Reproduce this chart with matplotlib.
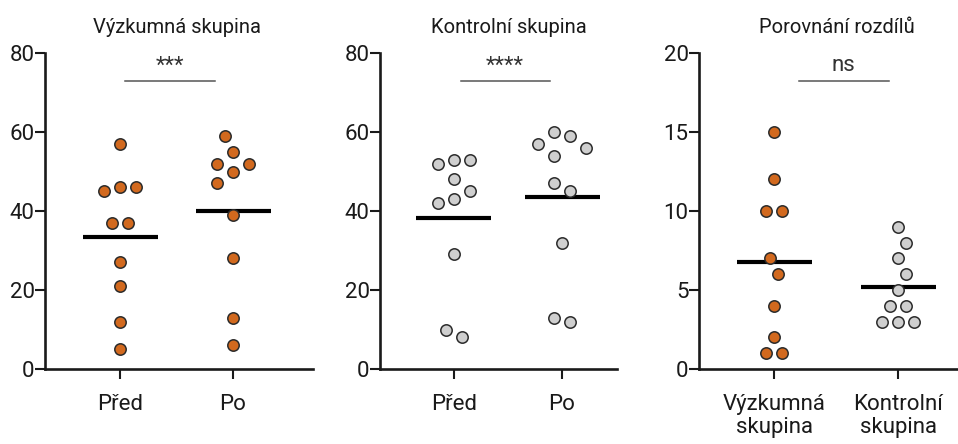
import numpy as np
import matplotlib
matplotlib.use("Agg")
import matplotlib.pyplot as plt

# ---------------- data ----------------
titles = ["Výzkumná skupina", "Kontrolní skupina", "Porovnání rozdílů"]

cats_1 = ["Před", "Po"]
vyzk_pred = [57, 46, 45, 46, 37, 37, 27, 21, 12, 5]
vyzk_po = [59, 55, 52, 52, 50, 47, 39, 28, 13, 6]

cats_2 = ["Před", "Po"]
kontr_pred = [53, 52, 53, 48, 45, 42, 43, 29, 8, 10]
kontr_po = [59, 60, 56, 57, 54, 47, 45, 32, 12, 13]

cats_3 = ["Výzkumná\nskupina", "Kontrolní\nskupina"]
rozdil_vyzk = [15, 12, 10, 10, 7, 6, 4, 2, 1, 1]
rozdil_kontr = [9, 8, 7, 6, 5, 4, 4, 3, 3, 3]

sig_labels = ["***", "****", "ns"]
yticks_12 = [0, 20, 40, 60, 80]
yticks_3 = [0, 5, 10, 15, 20]

# ---------------- style ----------------
ORANGE = "#D2691E"
GRAY = "#CFCFCF"
EDGE = "#2b2b2b"
plt.rcParams["font.family"] = ["Roboto", "DejaVu Sans"]

W, H = 958, 444
fig = plt.figure(figsize=(W / 100, H / 100), dpi=100)

ax_top, ax_bot = 53, 369
panels = [
    dict(left=45, right=313, xlim=(-0.664, 1.708), ylim=(0, 80), yticks=yticks_12,
         cats=cats_1, series=[vyzk_pred, vyzk_po], colors=[ORANGE, ORANGE],
         sig=(0.044, 0.84, 73, 0.44, 75.2), title_x=177),
    dict(left=380, right=617, xlim=(-0.685, 1.509), ylim=(0, 80), yticks=yticks_12,
         cats=cats_2, series=[kontr_pred, kontr_po], colors=[GRAY, GRAY],
         sig=(0.068, 0.893, 73, 0.47, 75.2), title_x=509),
    dict(left=699, right=958, xlim=(-0.607, 1.48), ylim=(0, 20), yticks=yticks_3,
         cats=cats_3, series=[rozdil_vyzk, rozdil_kontr], colors=[ORANGE, GRAY],
         sig=(0.2, 0.92, 18.25, 0.554, 18.86), title_x=837),
]


def swarm_offsets(values, px_per_y, step_px=8.0, dmin=15.9, max_k=10):
    vals = np.asarray(values, float)
    order = np.argsort(-vals, kind="stable")
    cands = [0]
    for k in range(1, max_k + 1):
        cands += [k, -k]
    placed = []
    offs = np.zeros(len(vals))
    for i in order:
        y = vals[i] * px_per_y
        x = 0.0
        for c in cands:
            x = c * step_px
            if all((x - px) ** 2 + (y - py) ** 2 >= dmin ** 2 for px, py in placed):
                break
        offs[i] = x
        placed.append((x, y))
    # centre each vertical cluster
    ys = vals * px_per_y
    idx = np.argsort(ys, kind="stable")
    groups, cur = [], [idx[0]]
    for a, b in zip(idx[:-1], idx[1:]):
        if ys[b] - ys[a] < dmin:
            cur.append(b)
        else:
            groups.append(cur)
            cur = [b]
    groups.append(cur)
    for g in groups:
        if len(g) > 1:
            shift = (offs[g].max() + offs[g].min()) / 2
            offs[g] -= shift
    return offs


for i, p in enumerate(panels):
    l, r = p["left"], p["right"]
    ax = fig.add_axes([l / W, 1 - ax_bot / H, (r - l) / W, (ax_bot - ax_top) / H])
    ax.set_xlim(*p["xlim"])
    ax.set_ylim(*p["ylim"])
    ax.patch.set_alpha(0)
    px_x = (r - l) / (p["xlim"][1] - p["xlim"][0])
    px_y = (ax_bot - ax_top) / (p["ylim"][1] - p["ylim"][0])

    for j, (vals, col) in enumerate(zip(p["series"], p["colors"])):
        offs = swarm_offsets(vals, px_y) / px_x
        ax.plot(j + offs, vals, linestyle="none", marker="o", markersize=8.2,
                markerfacecolor=col, markeredgecolor=EDGE, markeredgewidth=1.1,
                zorder=3, clip_on=False)
        m = np.mean(vals)
        hw = 37.5 / px_x
        ax.plot([j - hw, j + hw], [m, m], color="black", lw=3.0,
                solid_capstyle="butt", zorder=2.5)

    x0, x1, ly, tx, ty = p["sig"]
    ax.plot([x0, x1], [ly, ly], color="#555555", lw=1.1, zorder=2, clip_on=False)
    ax.text(tx, ty, sig_labels[i], ha="center", va="baseline", fontsize=16,
            color="#333333")

    ax.text((p["title_x"] - l) / (r - l), 1 - (33 - ax_top) / (ax_bot - ax_top),
            titles[i], transform=ax.transAxes, ha="center", va="baseline",
            fontsize=14.5, color="#1a1a1a")

    ax.set_xticks(range(len(p["cats"])))
    ax.set_xticklabels(p["cats"], linespacing=1.1)
    ax.set_yticks(p["yticks"])
    ax.set_yticklabels([str(v) for v in p["yticks"]])
    for s in ["top", "right"]:
        ax.spines[s].set_visible(False)
    for s in ["left", "bottom"]:
        ax.spines[s].set_linewidth(1.9)
        ax.spines[s].set_color("#1a1a1a")
    ax.tick_params(axis="y", direction="out", length=7, width=1.5, pad=0.5,
                   labelsize=16, colors="#1a1a1a")
    ax.tick_params(axis="x", direction="out", length=7, width=1.5, pad=11,
                   labelsize=16, colors="#1a1a1a")

fig.savefig("out.png", dpi=100)
